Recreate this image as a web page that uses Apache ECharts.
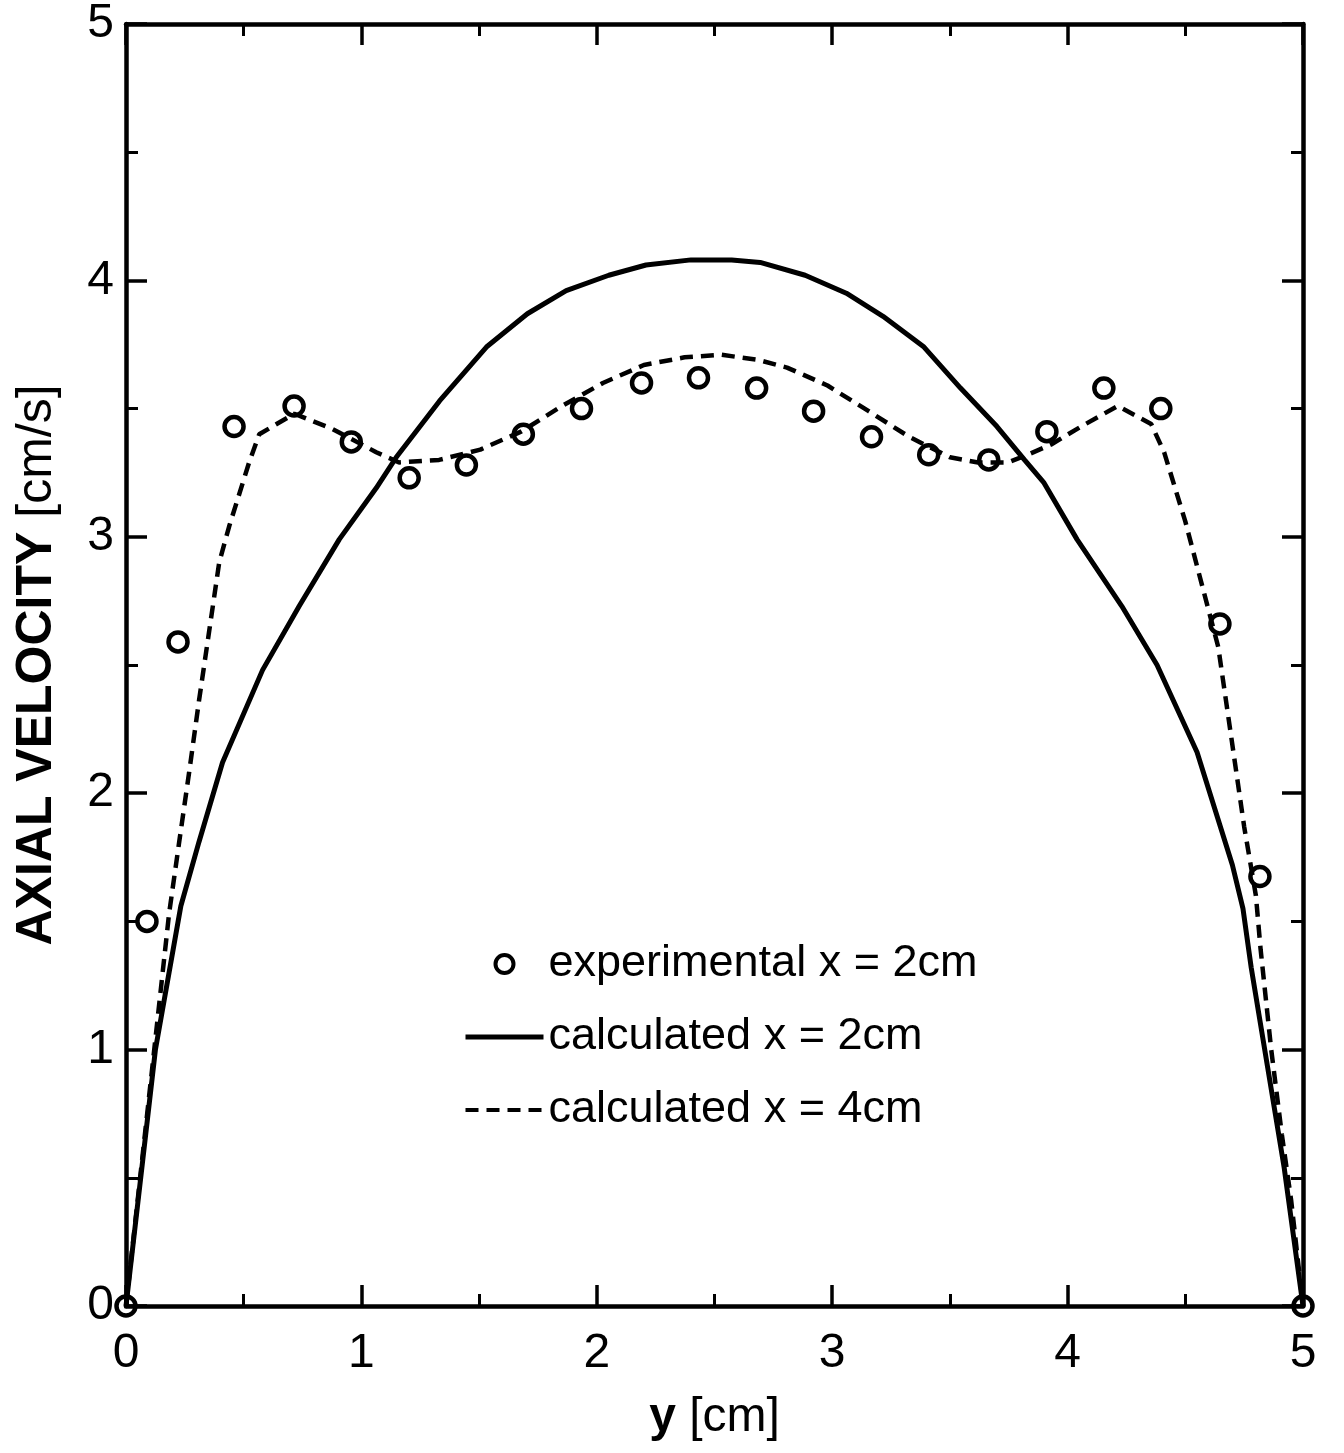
<!DOCTYPE html>
<html>
<head>
<meta charset="utf-8">
<script src="https://cdn.jsdelivr.net/npm/echarts@6/dist/echarts.min.js"></script>
<style>
html,body{margin:0;padding:0;background:#fff;}
#chart{width:1344px;height:1453px;}
</style>
</head>
<body>
<div id="chart"></div>
<script>
// ---- data ----
const tickLabels = ['0','1','2','3','4','5'];

const expX = [0, 0.089, 0.221, 0.459, 0.714, 0.957, 1.203, 1.446, 1.688, 1.935, 2.19, 2.432, 2.679, 2.921, 3.167, 3.41, 3.665, 3.912, 4.154, 4.396, 4.647, 4.817, 5.0];
const expV = [0, 1.50, 2.59, 3.43, 3.51, 3.37, 3.23, 3.28, 3.40, 3.50, 3.60, 3.62, 3.58, 3.49, 3.39, 3.32, 3.30, 3.41, 3.58, 3.50, 2.66, 1.675, 0];

const calc2X = [0, 0.125, 0.233, 0.31, 0.41, 0.58, 0.736, 0.906, 1.063, 1.148, 1.332, 1.531, 1.705, 1.87, 2.051, 2.209, 2.40, 2.573, 2.694, 2.885, 3.06, 3.216, 3.39, 3.545, 3.70, 3.817, 3.90, 4.04, 4.23, 4.38, 4.55, 4.70, 4.745, 4.78, 4.85, 4.92, 5.0];
const calc2V = [0, 1.0, 1.56, 1.81, 2.12, 2.48, 2.73, 2.99, 3.19, 3.31, 3.53, 3.74, 3.87, 3.96, 4.02, 4.06, 4.08, 4.08, 4.07, 4.02, 3.95, 3.86, 3.74, 3.58, 3.43, 3.30, 3.21, 2.99, 2.73, 2.50, 2.16, 1.72, 1.55, 1.32, 0.93, 0.54, 0];

const calc4X = [0, 0.12, 0.183, 0.226, 0.268, 0.31, 0.353, 0.396, 0.438, 0.523, 0.566, 0.715, 0.878, 1.063, 1.16, 1.33, 1.505, 1.678, 1.852, 2.026, 2.2, 2.373, 2.53, 2.685, 2.808, 2.98, 3.155, 3.327, 3.50, 3.62, 3.746, 3.83, 3.93, 4.057, 4.213, 4.355, 4.41, 4.50, 4.58, 4.64, 4.695, 4.75, 4.80, 4.82, 4.865, 4.91, 4.95, 5.0];
const calc4V = [0, 1.0, 1.53, 1.81, 2.08, 2.36, 2.63, 2.90, 3.04, 3.29, 3.40, 3.48, 3.42, 3.33, 3.29, 3.30, 3.34, 3.41, 3.51, 3.60, 3.67, 3.70, 3.71, 3.69, 3.66, 3.59, 3.49, 3.39, 3.31, 3.29, 3.29, 3.32, 3.36, 3.43, 3.51, 3.44, 3.33, 3.06, 2.78, 2.57, 2.22, 1.87, 1.60, 1.39, 1.00, 0.67, 0.41, 0];

const seriesNames = ['experimental x = 2cm', 'calculated x = 2cm', 'calculated x = 4cm'];

// ---- build ----
const zip = (xs, ys) => xs.map((x, i) => [x, ys[i]]);
const FONT = '"Liberation Sans", Arial, Helvetica, sans-serif';

function axisCommon(showLabels) {
  return {
    type: 'value', min: 0, max: 5, interval: 1,
    axisLine: { show: true, onZero: false, lineStyle: { color: '#000', width: 4.5 } },
    axisTick: { show: true, inside: true, length: 21, lineStyle: { color: '#000', width: 3.5 } },
    minorTick: { show: true, splitNumber: 2, length: 12, lineStyle: { color: '#000', width: 3 } },
    splitLine: { show: false },
    minorSplitLine: { show: false },
    axisLabel: {
      show: showLabels, color: '#000', fontSize: 48, fontFamily: FONT,
      formatter: v => tickLabels[Math.round(v)] || ''
    }
  };
}

const chart = echarts.init(document.getElementById('chart'), null, { renderer: 'canvas' });

const xBottom = Object.assign(axisCommon(true), {
  position: 'bottom',
  name: '{b|y }{r|[cm]}',
  nameLocation: 'middle',
  nameGap: 88,
  nameTextStyle: {
    rich: {
      b: { fontSize: 48, fontWeight: 'bold', fontFamily: FONT, color: '#000' },
      r: { fontSize: 48, fontFamily: FONT, color: '#000' }
    }
  }
});
xBottom.axisLabel.margin = 24;

const yLeft = Object.assign(axisCommon(true), {
  position: 'left',
  name: '{b|AXIAL VELOCITY }{r|[cm/s]}',
  nameLocation: 'middle',
  nameRotate: 90,
  nameGap: 64,
  nameTextStyle: {
    rich: {
      b: { fontSize: 50, fontWeight: 'bold', fontFamily: FONT, color: '#000' },
      r: { fontSize: 50, fontFamily: FONT, color: '#000' }
    }
  }
});
yLeft.axisLabel.margin = 12;

const xTop = Object.assign(axisCommon(false), { position: 'top' });
const yRight = Object.assign(axisCommon(false), { position: 'right' });

const hiddenSymbol = { color: 'rgba(0,0,0,0)', borderColor: 'rgba(0,0,0,0)', borderWidth: 0, opacity: 0 };

chart.setOption({
  animation: false,
  backgroundColor: '#fff',
  grid: { left: 126, right: 41, top: 18, bottom: 147, containLabel: false },
  legend: {
    orient: 'vertical',
    left: 458,
    top: 936,
    itemWidth: 78,
    itemHeight: 18,
    itemGap: 27,
    selectedMode: false,
    data: [
      { name: seriesNames[0], itemStyle: { color: 'rgba(255,255,255,0)', borderColor: '#000', borderWidth: 4, opacity: 1 } },
      { name: seriesNames[1], itemStyle: hiddenSymbol, lineStyle: { width: 5, color: '#000', type: 'solid' } },
      { name: seriesNames[2], itemStyle: hiddenSymbol, lineStyle: { width: 4, color: '#000', type: [13, 8] } }
    ],
    textStyle: { fontSize: 45, lineHeight: 46, color: '#000', fontFamily: FONT }
  },
  xAxis: [xBottom, xTop],
  yAxis: [yLeft, yRight],
  series: [
    {
      name: seriesNames[0],
      type: 'scatter',
      data: zip(expX, expV),
      symbol: 'circle',
      symbolSize: 19,
      clip: false,
      z: 4,
      itemStyle: { color: 'rgba(255,255,255,0)', borderColor: '#000', borderWidth: 4.5, opacity: 1 }
    },
    {
      name: seriesNames[1],
      type: 'line',
      data: zip(calc2X, calc2V),
      symbol: 'none',
      smooth: false,
      z: 3,
      lineStyle: { color: '#000', width: 5 },
      itemStyle: { color: '#000' }
    },
    {
      name: seriesNames[2],
      type: 'line',
      data: zip(calc4X, calc4V),
      symbol: 'none',
      smooth: false,
      z: 3,
      lineStyle: { color: '#000', width: 4.5, type: [13, 8] },
      itemStyle: { color: '#000' }
    }
  ]
});
</script>
</body>
</html>
